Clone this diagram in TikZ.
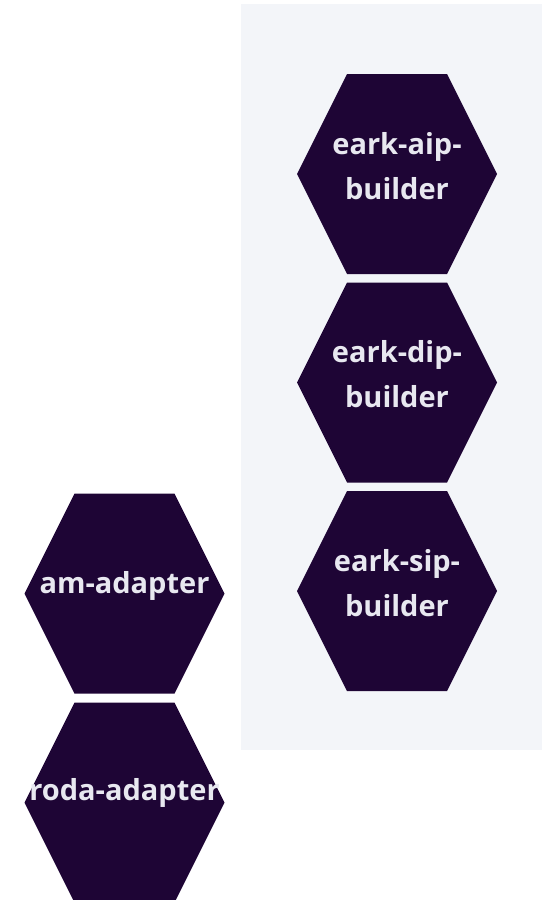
\documentclass[tikz,border=0pt]{standalone}
\usepackage{fontspec}
\setmainfont{Open Sans}
\definecolor{hexfill}{HTML}{1E0535}
\definecolor{panel}{HTML}{F3F5F9}
\definecolor{hextext}{HTML}{E8E8F0}
\begin{document}
\begin{tikzpicture}[x=1pt, y=-1pt,
  hexagon/.pic={\fill[hexfill] (-100,0) -- (-50,-100) -- (50,-100) -- (100,0) -- (50,100) -- (-50,100) -- cycle;},
  hexlabel/.style={text=hextext, font=\fontsize{29}{45}\selectfont\bfseries, align=center, inner sep=0pt}]
  \useasboundingbox (0,0) rectangle (552,900);
  % grouping panel for the E-ARK builders
  \fill[panel] (241,4) rectangle (542,750);
  % builder hexagons
  \pic at (397,174) {hexagon};
  \pic at (397,382.5) {hexagon};
  \pic at (397,591) {hexagon};
  \node[hexlabel] (aip) at (397,166) {eark-aip-\\builder};
  \node[hexlabel] (dip) at (397,374.5) {eark-dip-\\builder};
  \node[hexlabel] (sip) at (397,583) {eark-sip-\\builder};
  % adapter hexagons
  \pic at (124.5,593.5) {hexagon};
  \pic at (124.5,802.5) {hexagon};
  \node[hexlabel] (am) at (124.5,586) {am-adapter};
  \node[hexlabel] (roda) at (124.5,793) {roda-adapter};
\end{tikzpicture}
\end{document}
